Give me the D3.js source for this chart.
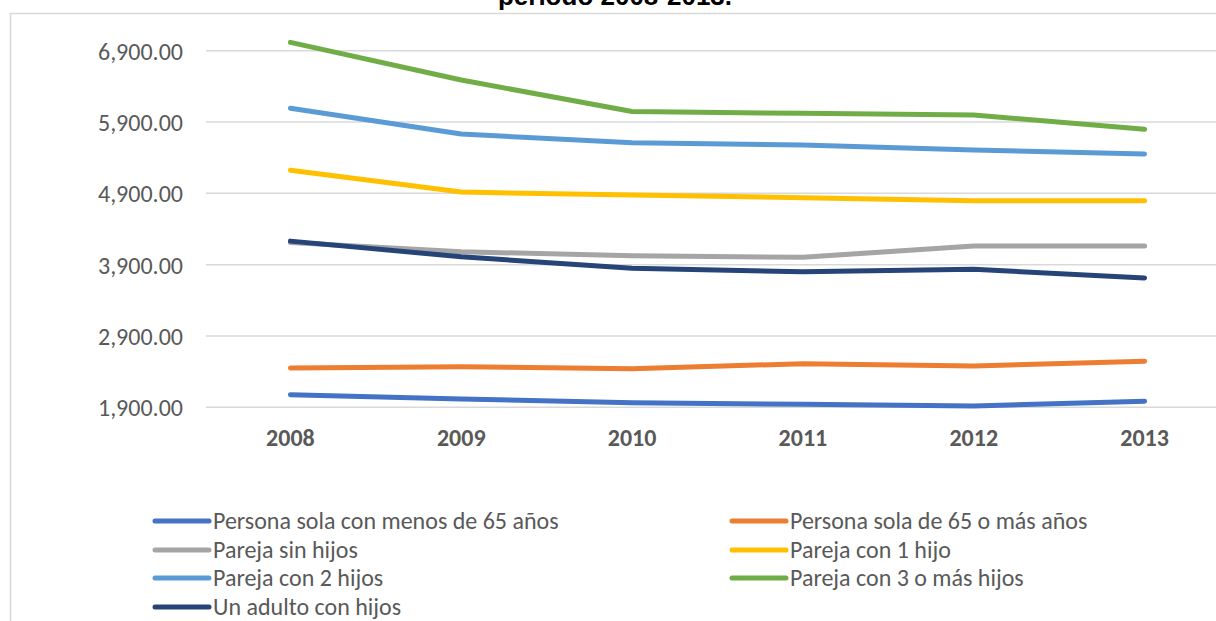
<!DOCTYPE html>
<html><head><meta charset="utf-8">
<script src="https://cdn.jsdelivr.net/npm/d3@7"></script>
<style>body{margin:0;background:#fff}svg{display:block}</style>
</head><body>
<svg id="c" width="1216" height="621"></svg>
<script>
const years = ["2008","2009","2010","2011","2012","2013"];
const seriesNames = [
  "Persona sola con menos de 65 años",
  "Persona sola de 65 o más años",
  "Pareja sin hijos",
  "Pareja con 1 hijo",
  "Pareja con 2 hijos",
  "Pareja con 3 o más hijos",
  "Un adulto con hijos"
];
const solaMenos65 = [2077, 2016, 1964, 1942, 1918, 1984];
const sola65Mas   = [2451, 2469, 2441, 2511, 2479, 2545];
const sinHijos    = [4210, 4081, 4025, 4003, 4161, 4161];
const con1Hijo    = [5223, 4918, 4876, 4839, 4796, 4796];
const con2Hijos   = [6092, 5732, 5610, 5577, 5507, 5451];
const con3MasHijos= [7017, 6489, 6047, 6022, 5998, 5797];
const adultoHijos = [4230, 4011, 3849, 3801, 3835, 3713];
const yTicks = [1900, 2900, 3900, 4900, 5900, 6900];
const colors = ["#4472C4","#ED7D31","#A5A5A5","#FFC000","#5B9BD5","#70AD47","#264478"];
const allSeries = [solaMenos65, sola65Mas, sinHijos, con1Hijo, con2Hijos, con3MasHijos, adultoHijos];

const svg = d3.select("#c");
const FONT = "Carlito, Lato, 'Liberation Sans', sans-serif";

// chart area border
svg.append("path").attr("d","M10.5,621 L10.5,13.5 L1216,13.5")
  .attr("fill","none").attr("stroke","#d9d9d9").attr("stroke-width",1.5);

// title (mostly cut off at top, as in the original)
svg.append("text").attr("x",615).attr("y",5).attr("text-anchor","middle")
  .attr("font-family","'Liberation Sans', Arial, sans-serif").attr("font-weight","bold")
  .attr("font-size",26).attr("fill","#000").text("periodo 2008-2013.");

const x = d3.scaleBand().domain(years).range([205, 1230]).padding(0);
const y = d3.scaleLinear().domain([1900, 6900]).range([407.3, 50.7]);

// gridlines
svg.append("g").selectAll("line").data(yTicks).join("line")
  .attr("x1",206).attr("x2",1216)
  .attr("y1",d=>y(d)).attr("y2",d=>y(d))
  .attr("stroke","#d9d9d9").attr("stroke-width",1.5);

// y axis labels
const yAxis = d3.axisLeft(y).tickValues(yTicks).tickSize(0).tickPadding(0)
  .tickFormat(d3.format(",.2f"));
const gy = svg.append("g").attr("transform","translate(183,0)").call(yAxis);
gy.select(".domain").remove();
gy.selectAll("text").attr("font-family",FONT).attr("font-size",24).attr("fill","#595959").attr("dy","0.35em");

// x axis labels
const xAxis = d3.axisBottom(x).tickSize(0).tickPadding(0);
const gx = svg.append("g").attr("transform","translate(0,429)").call(xAxis);
gx.select(".domain").remove();
gx.selectAll("text").attr("font-family",FONT).attr("font-size",24).attr("font-weight","bold")
  .attr("fill","#595959").attr("dy","0.71em");

// lines
const line = d3.line().x((d,i)=>x(years[i]) + x.bandwidth()/2).y(d=>y(d));
svg.append("g").selectAll("path").data(allSeries).join("path")
  .attr("d",d=>line(d)).attr("fill","none")
  .attr("stroke",(d,i)=>colors[i]).attr("stroke-width",5)
  .attr("stroke-linecap","round").attr("stroke-linejoin","round");

// legend
const legPos = [[155,521],[732,521],[155,550],[732,550],[155,578],[732,578],[155,607]];
const lg = svg.append("g").selectAll("g").data(seriesNames).join("g")
  .attr("transform",(d,i)=>`translate(${legPos[i][0]},${legPos[i][1]})`);
lg.append("line").attr("x1",0).attr("x2",54).attr("y1",0).attr("y2",0)
  .attr("stroke",(d,i)=>colors[i]).attr("stroke-width",5).attr("stroke-linecap","round");
lg.append("text").attr("x",58).attr("y",0).attr("dy","0.35em")
  .attr("font-family",FONT).attr("font-size",24).attr("fill","#595959").text(d=>d);
</script>
</body></html>
